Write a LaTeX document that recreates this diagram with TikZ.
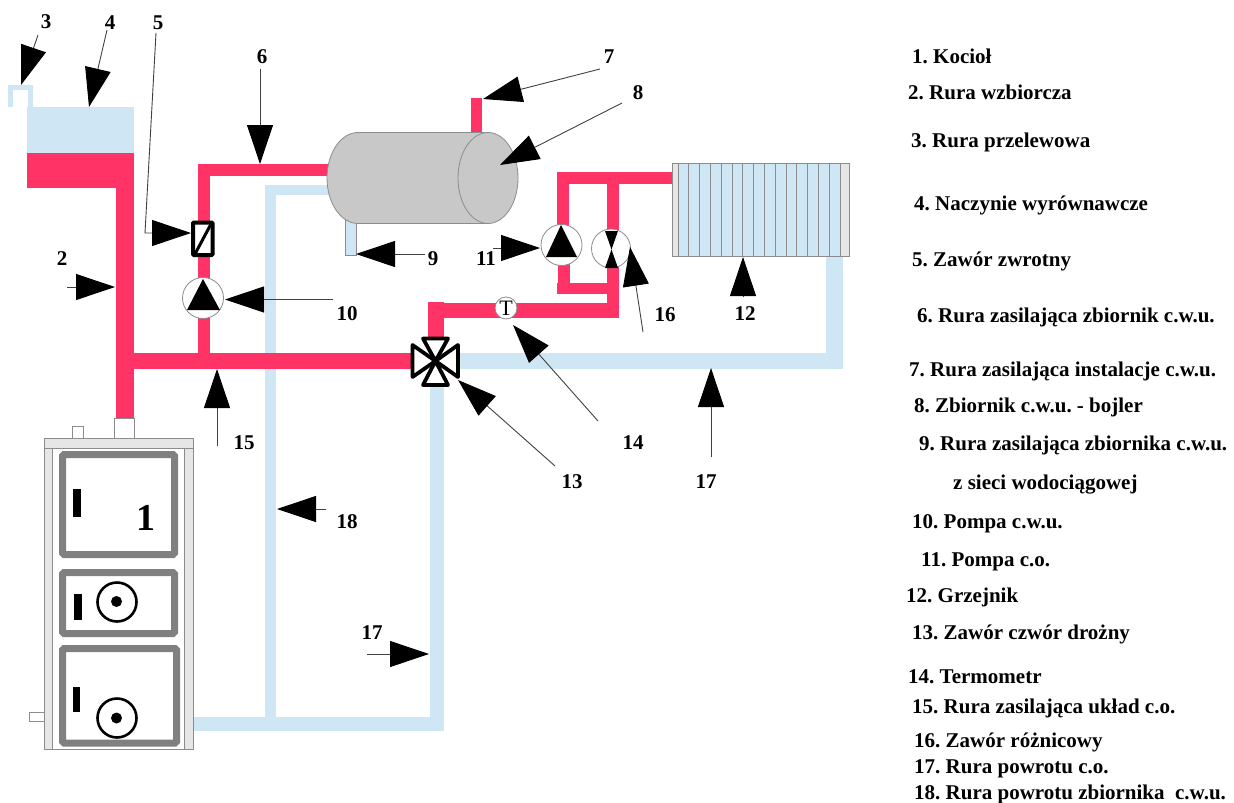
\documentclass[tikz,border=0pt]{standalone}
\usepackage{fontspec}
\setmainfont{Liberation Serif}
\usetikzlibrary{arrows.meta}
\definecolor{pipered}{HTML}{FF3366}
\definecolor{pipeblue}{HTML}{CFE6F4}
\definecolor{tankgray}{HTML}{C8C8C8}
\definecolor{edgegray}{HTML}{8C8C8C}
\definecolor{doorgray}{HTML}{808080}
\definecolor{bandgray}{HTML}{E6E6E6}
\tikzset{
  redpipe/.style={fill=pipered,draw=none},
  bluepipe/.style={fill=pipeblue,draw=none},
  leader/.style={draw=black!75,line width=0.9pt,-{Triangle[length=39pt,width=26pt,color=black,fill=black]}},
  num/.style={font=\frenchspacing\bfseries\fontsize{21}{21}\selectfont,inner sep=0pt},
  legend/.style={font=\frenchspacing\bfseries\fontsize{21}{21}\selectfont,inner sep=0pt,anchor=base west},
  frame/.style={draw=edgegray,line width=0.8pt},
  band/.style={frame,fill=bandgray},
  door/.style={draw=doorgray,line width=7pt,rounded corners=1.5pt,fill=white},
  disc/.style={draw=edgegray,line width=0.8pt,fill=white},
  valvetri/.style={draw=black,line width=3.8pt,fill=white,line join=round},
  ring/.style={draw=black,line width=2.6pt,fill=white}
}
\begin{document}
\begin{tikzpicture}[x=1pt,y=-1pt]
\useasboundingbox (0,0) rectangle (1234,803);
% blue pipes
\fill[bluepipe] (27,107) rectangle (134,153);
\draw[pipeblue,line width=5pt] (10,107) -- (10,87.5) -- (30,87.5) -- (30,107);
\fill[bluepipe] (265,185) rectangle (335,195);
\fill[bluepipe] (265,185) rectangle (276,720);
\fill[bluepipe] (193,717) rectangle (444,731);
\fill[bluepipe] (430,370) rectangle (444,731);
\fill[bluepipe] (440,353) rectangle (843,369);
\fill[bluepipe] (826,250) rectangle (843,369);
% red pipes
\fill[redpipe] (27,153) rectangle (134,188);
\fill[redpipe] (115.5,188) rectangle (134,419);
\fill[redpipe] (134,353) rectangle (420,369);
\fill[redpipe] (198,164) rectangle (210,353);
\fill[redpipe] (198,164) rectangle (335,176);
\fill[redpipe] (471,98) rectangle (482,135);
\fill[redpipe] (557,172) rectangle (672,184);
\fill[redpipe] (557,172) rectangle (569,228);
\fill[redpipe] (607,184) rectangle (619,232);
\fill[redpipe] (558,262) rectangle (570,294);
\fill[redpipe] (557,283) rectangle (612,294);
\fill[redpipe] (607,264) rectangle (619,318);
\fill[redpipe] (428,303) rectangle (619,318);
\fill[redpipe] (428,302) rectangle (444,340);
% hot water tank
\draw[frame,fill=pipeblue] (345,220) rectangle (356,255);
\draw[frame,fill=tankgray] (358,178) ellipse [x radius=31,y radius=45.5];
\fill[tankgray] (358,133) rectangle (488,223.5);
\draw[frame] (358,132.5) -- (488,132.5) (358,223.5) -- (488,223.5);
\draw[frame,fill=tankgray] (488,178) ellipse [x radius=30,y radius=45.5];
% radiator
\draw[band] (672,163) rectangle (849.5,256);
\draw[frame,fill=pipeblue] (678,163) rectangle (840,256);
\foreach \i in {1,...,14} \draw[frame] ({678+\i*10.8},163) -- ({678+\i*10.8},256);
% boiler
\draw[frame,fill=white] (114.5,418) rectangle (134,438);
\draw[frame,fill=white] (72.5,426) rectangle (83,438);
\draw[frame,fill=white] (29,712.5) rectangle (44.5,721);
\draw[frame,fill=white] (44.5,438) rectangle (193.5,749);
\draw[band] (44.5,448) rectangle (52.5,749);
\draw[band] (184.5,448) rectangle (193.5,749);
\draw[band] (44.5,438.5) rectangle (193.5,448);
\draw[door] (62.5,454.5) rectangle (174.5,554.5);
\draw[door] (62.5,572.5) rectangle (174.5,633.5);
\draw[door] (62.5,648.5) rectangle (176.5,743);
\fill[black] (73,488.5) rectangle (81,517);
\fill[black] (74,594) rectangle (82,620);
\fill[black] (72.5,687) rectangle (80,712);
\draw[ring] (117,602) circle [radius=19.5];
\fill[black] (116.5,601.5) circle [radius=5.5];
\draw[ring] (117,718) circle [radius=19.5];
\fill[black] (116.5,718) circle [radius=5.5];
\node[inner sep=0pt,font=\bfseries\fontsize{38}{38}\selectfont] (boilerlabel) at (146,518) {1};
% check valve
\draw[draw=black,line width=4pt,fill=white,rounded corners=1pt] (193,222.5) rectangle (212.5,255);
\draw[black,line width=3pt] (195,254) -- (211,224);
% pump 10
\draw[disc] (203,298) circle [radius=20.5];
\fill[black] (203,279) -- (220,310) -- (187,310) -- cycle;
% pump 11
\draw[disc] (561.5,245) circle [radius=20.5];
\fill[black] (561,225) -- (577,257) -- (546,257) -- cycle;
% differential valve
\draw[disc] (611,248.5) circle [radius=19.5];
\fill[black] (605,231) -- (618,231) -- (605,268) -- (618,268) -- cycle;
% thermometer
\node[circle,disc,minimum size=22pt,inner sep=0pt,font=\fontsize{22}{22}\selectfont] (thermo) at (506,308) {T};
% four-way valve
\draw[valvetri] (423,338.5) -- (448,338.5) -- (435.5,361) -- cycle;
\draw[valvetri] (423,385) -- (448,385) -- (435.5,361) -- cycle;
\draw[valvetri] (412.5,345) -- (412.5,377) -- (435.5,361) -- cycle;
\draw[valvetri] (458,345) -- (458,377) -- (435.5,361) -- cycle;
% labels
\node[num] (n3) at (46,22) {3};
\node[num] (n4) at (110,23) {4};
\node[num] (n5) at (158,23) {5};
\node[num] (n6) at (262,57) {6};
\node[num] (n7) at (609,57) {7};
\node[num] (n8) at (638,93) {8};
\node[num] (n9) at (433,259) {9};
\node[num] (n10) at (347,314) {10};
\node[num] (n2) at (62,259) {2};
\node[num] (n11) at (486,259) {11};
\node[num] (n16) at (665,315) {16};
\node[num] (n12) at (745,314) {12};
\node[num] (n15) at (244,443) {15};
\node[num] (n14) at (633,443) {14};
\node[num] (n13) at (572,482) {13};
\node[num] (n17a) at (706,482) {17};
\node[num] (n18) at (347,522) {18};
\node[num] (n17b) at (372,633) {17};
% leader ends
\coordinate (t3a) at (38,35); \coordinate (t3b) at (21,85);
\coordinate (t4a) at (107,30); \coordinate (t4b) at (89,107);
\coordinate (t5a) at (156,33); \coordinate (t5c) at (145,233); \coordinate (t5b) at (191,233);
\coordinate (t6a) at (260,69); \coordinate (t6b) at (260,164);
\coordinate (t7a) at (600,69); \coordinate (t7b) at (483,99);
\coordinate (t8a) at (622,103); \coordinate (t8b) at (500,165);
\coordinate (t9a) at (425,254); \coordinate (t9b) at (356,254);
\coordinate (t10a) at (333,299.5); \coordinate (t10b) at (225,299.5);
\coordinate (t2a) at (67,287); \coordinate (t2b) at (115,287);
\coordinate (t11a) at (493,248); \coordinate (t11b) at (540,248);
\coordinate (t16a) at (643,332); \coordinate (t16b) at (630,247);
\coordinate (t14a) at (598,421); \coordinate (t14b) at (513,325);
\coordinate (t13a) at (555,466); \coordinate (t13b) at (458,380);
\coordinate (t15a) at (217,446); \coordinate (t15b) at (217,369);
\coordinate (t12a) at (743,297); \coordinate (t12b) at (743,257);
\coordinate (t17a) at (711,457); \coordinate (t17b) at (711,368);
\coordinate (t17c) at (367,654); \coordinate (t17d) at (429,654);
\coordinate (t18a) at (326,509); \coordinate (t18b) at (277,509);
% leaders
\draw[leader] (t3a) -- (t3b);
\draw[leader] (t4a) -- (t4b);
\draw[leader] (t5a) -- (t5c) -- (t5b);
\draw[leader] (t6a) -- (t6b);
\draw[leader] (t7a) -- (t7b);
\draw[leader] (t8a) -- (t8b);
\draw[leader] (t9a) -- (t9b);
\draw[leader] (t10a) -- (t10b);
\draw[leader] (t2a) -- (t2b);
\draw[leader] (t11a) -- (t11b);
\draw[leader] (t16a) -- (t16b);
\draw[leader] (t14a) -- (t14b);
\draw[leader] (t13a) -- (t13b);
\draw[leader] (t15a) -- (t15b);
\draw[leader] (t12a) -- (t12b);
\draw[leader] (t17a) -- (t17b);
\draw[leader] (t17c) -- (t17d);
\draw[leader] (t18a) -- (t18b);
% legend
\node[legend] (l1) at (912,63) {1. Kocioł};
\node[legend] (l2) at (908,99) {2. Rura wzbiorcza};
\node[legend] (l3) at (911,147) {3. Rura przelewowa};
\node[legend] (l4) at (914,210) {4. Naczynie wyrównawcze};
\node[legend] (l5) at (912,266) {5. Zawór zwrotny};
\node[legend] (l6) at (917,322) {6. Rura zasilająca zbiornik c.w.u.};
\node[legend] (l7) at (909,376) {7. Rura zasilająca instalacje c.w.u.};
\node[legend] (l8) at (914,412) {8. Zbiornik c.w.u. - bojler};
\node[legend] (l9) at (919,450) {9. Rura zasilająca zbiornika c.w.u.};
\node[legend] (l9b) at (953,489) {z sieci wodociągowej};
\node[legend] (l10) at (912,528) {10. Pompa c.w.u.};
\node[legend] (l11) at (921,566) {11. Pompa c.o.};
\node[legend] (l12) at (906,602) {12. Grzejnik};
\node[legend] (l13) at (912,639) {13. Zawór czwór drożny};
\node[legend] (l14) at (908,683) {14. Termometr};
\node[legend] (l15) at (912,713) {15. Rura zasilająca układ c.o.};
\node[legend] (l16) at (914,747) {16. Zawór różnicowy};
\node[legend] (l17) at (914,773) {17. Rura powrotu c.o.};
\node[legend] (l18) at (914,799) {18. Rura powrotu zbiornika\ \ c.w.u.};
\end{tikzpicture}
\end{document}
